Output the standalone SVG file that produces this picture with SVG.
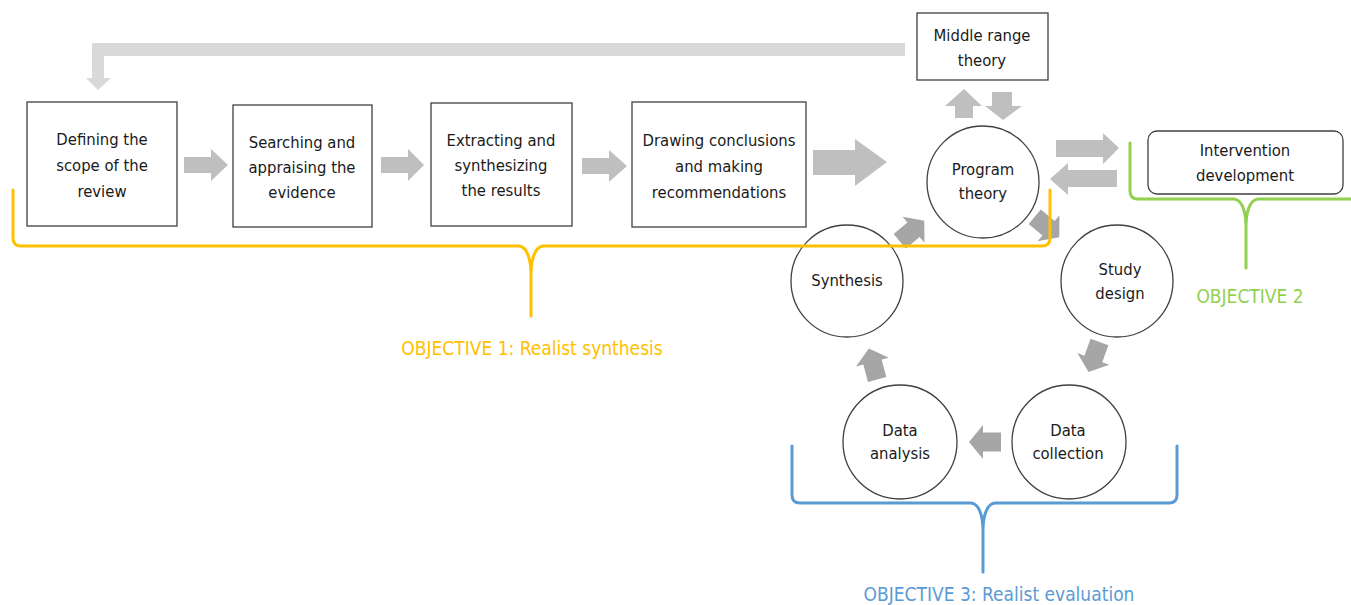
<svg xmlns="http://www.w3.org/2000/svg" width="1351" height="605" viewBox="0 0 1351 605">
<style>
.box{fill:#fff;stroke:#404040;stroke-width:1.3}
.t{font-family:"DejaVu Sans Condensed","Liberation Sans Narrow","Roboto Condensed","Liberation Sans",sans-serif;font-stretch:condensed;font-size:16.5px;fill:#1a1a1a;text-anchor:middle}
.obj{font-family:"DejaVu Sans Condensed","Liberation Sans Narrow","Roboto Condensed","Liberation Sans",sans-serif;font-stretch:condensed;font-size:19px;text-anchor:middle}
.a1{fill:#BFBFBF}
.a2{fill:#A6A6A6}
.a0{fill:#D9D9D9}
.br{fill:none;stroke-width:3;stroke-linecap:round;stroke-linejoin:round}
</style>
<defs>
<path id="carr" d="M-16,-9.5 H2 V-17 L16,0 L2,17 V9.5 H-16 Z"/>
</defs>
<rect width="1351" height="605" fill="#fff"/>

<g id="connectors">
<path class="a0" d="M905,43 H92 V78 H86 L98,90 L111,78 H104 V56 H905 Z"/>
<path class="a1" d="M184,157 H211 V149 L228,165 L211,181 V173 H184 Z"/>
<path class="a1" d="M381,157 H408 V149 L424,165 L408,181 V173 H381 Z"/>
<path class="a1" d="M582,158 H609 V150 L627,166 L609,182 V174 H582 Z"/>
<path class="a1" d="M813,150 H855 V139 L887,162 L855,186 V175 H813 Z"/>
<path class="a1" d="M955,118 V106 H945 L964,89 L982,106 H973 V118 Z"/>
<path class="a1" d="M992,92 H1012 V106 H1022 L1003,120 L985,106 H992 Z"/>
<path class="a1" d="M1056,140 H1103 V133 L1119,148 L1103,164 V157 H1056 Z"/>
<path class="a1" d="M1117,170 H1068 V163 L1050,179 L1068,195 V187 H1117 Z"/>
<use href="#carr" class="a2" transform="translate(912,231) rotate(-40)"/>
<use href="#carr" class="a2" transform="translate(1047,227) rotate(40)"/>
<use href="#carr" class="a2" transform="translate(1094,357) rotate(110)"/>
<use href="#carr" class="a2" transform="translate(985,442) rotate(180)"/>
<use href="#carr" class="a2" transform="translate(873,364) rotate(-105)"/>
</g>

<g id="n-scope">
<rect class="box" x="27" y="102" width="150" height="124"/>
<text class="t" x="102" y="145">Defining the</text>
<text class="t" x="102" y="171">scope of the</text>
<text class="t" x="102" y="197">review</text>
</g>
<g id="n-search">
<rect class="box" x="233" y="105" width="139" height="122"/>
<text class="t" x="302" y="148">Searching and</text>
<text class="t" x="302" y="173">appraising the</text>
<text class="t" x="302" y="198">evidence</text>
</g>
<g id="n-extract">
<rect class="box" x="431" y="103" width="141" height="123"/>
<text class="t" x="501" y="146">Extracting and</text>
<text class="t" x="501" y="171">synthesizing</text>
<text class="t" x="501" y="196">the results</text>
</g>
<g id="n-draw">
<rect class="box" x="632" y="102" width="174" height="125"/>
<text class="t" x="719" y="146">Drawing conclusions</text>
<text class="t" x="719" y="172">and making</text>
<text class="t" x="719" y="198">recommendations</text>
</g>
<g id="n-mrt">
<rect class="box" x="917" y="13" width="131" height="67"/>
<text class="t" x="982" y="41">Middle range</text>
<text class="t" x="982" y="66">theory</text>
</g>
<g id="n-intervention">
<rect class="box" x="1148" y="131" width="195" height="63" rx="9"/>
<text class="t" x="1245" y="156">Intervention</text>
<text class="t" x="1245" y="181">development</text>
</g>
<g id="n-program">
<circle class="box" cx="983" cy="182" r="56"/>
<text class="t" x="983" y="175">Program</text>
<text class="t" x="983" y="199">theory</text>
</g>
<g id="n-synthesis">
<circle class="box" cx="847" cy="281" r="56"/>
<text class="t" x="847" y="286">Synthesis</text>
</g>
<g id="n-study">
<circle class="box" cx="1117" cy="281" r="56"/>
<text class="t" x="1120" y="275">Study</text>
<text class="t" x="1120" y="299">design</text>
</g>
<g id="n-analysis">
<circle class="box" cx="900" cy="442" r="57"/>
<text class="t" x="900" y="436">Data</text>
<text class="t" x="900" y="459">analysis</text>
</g>
<g id="n-collection">
<circle class="box" cx="1069" cy="442" r="57"/>
<text class="t" x="1068" y="436">Data</text>
<text class="t" x="1068" y="459">collection</text>
</g>

<g id="objective1">
<path class="br" stroke="#FFC000" d="M13,190 V238 Q13,246 21,246 H519 Q529,247 531,270 V316"/>
<path class="br" stroke="#FFC000" d="M1050,190 V238 Q1050,246 1042,246 H543 Q533,247 531,270"/>
<text class="obj" x="532" y="355" fill="#FFC000">OBJECTIVE 1: Realist synthesis</text>
</g>
<g id="objective2">
<path class="br" stroke="#92D050" d="M1130,143 V191 Q1130,199 1138,199 H1234 Q1244,200 1246,222 V268"/>
<path class="br" stroke="#92D050" d="M1352,199 H1258 Q1248,200 1246,222"/>
<text class="obj" x="1250" y="303" fill="#92D050">OBJECTIVE 2</text>
</g>
<g id="objective3">
<path class="br" stroke="#5B9BD5" d="M792,446 V495 Q792,503 800,503 H971 Q981,504 983,526 V572"/>
<path class="br" stroke="#5B9BD5" d="M1177,446 V495 Q1177,503 1169,503 H995 Q985,504 983,526"/>
<text class="obj" x="999" y="601" fill="#5B9BD5">OBJECTIVE 3: Realist evaluation</text>
</g>
</svg>
